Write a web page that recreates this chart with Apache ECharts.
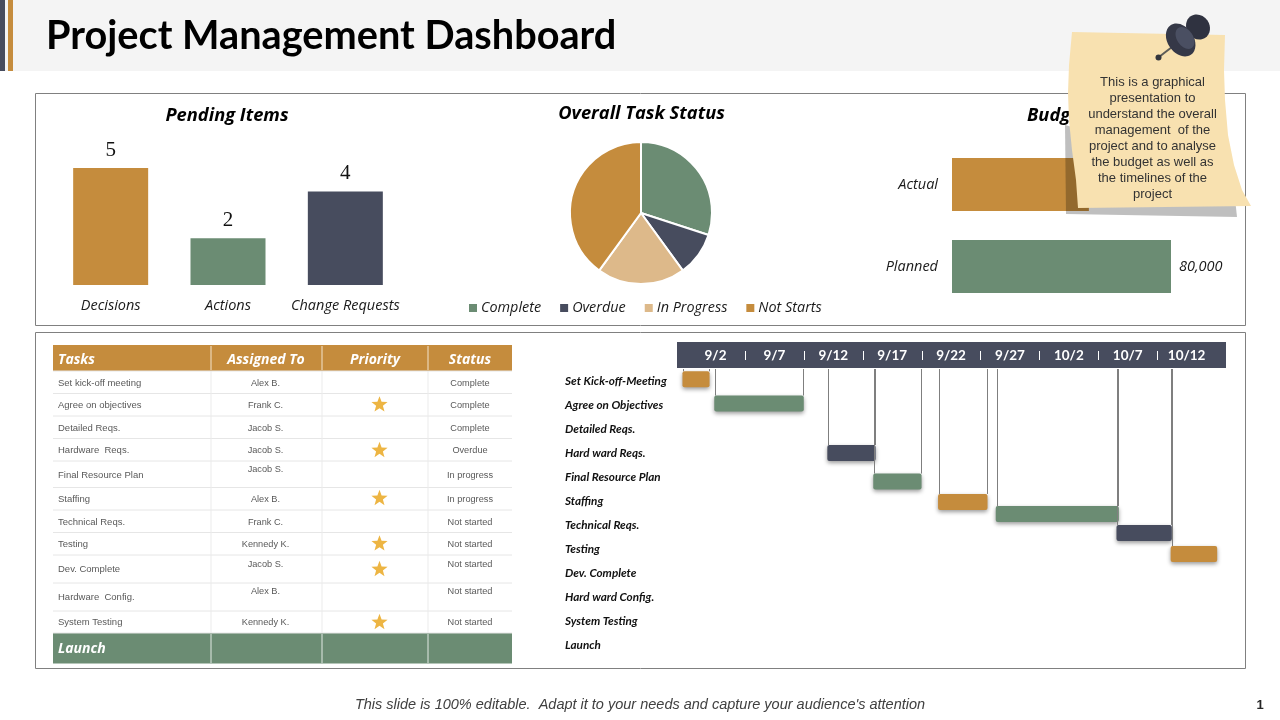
<!DOCTYPE html>
<html>
<head>
<meta charset="utf-8">
<title>Project Management Dashboard</title>
<script src="https://cdn.jsdelivr.net/npm/echarts@6/dist/echarts.min.js"></script>
<style>
html, body { margin: 0; padding: 0; background: #fff; }
#main { width: 1280px; height: 720px; }
</style>
</head>
<body>
<div id="main"></div>
<script>
// pending items
var pendingNames = ['Decisions', 'Actions', 'Change Requests'];
var pendingValues = [5, 2, 4];

// overall task status
var statusNames = ['Complete', 'Overdue', 'In Progress', 'Not Starts'];
var statusValues = [30, 10, 20, 40];

// budget
var budgetNames = ['Actual', 'Planned'];
var budgetValues = [50000, 80000];

// task table
var tableHeader = ['Tasks', 'Assigned To', 'Priority', 'Status'];
var tableTasks = ['Set kick-off meeting', 'Agree on objectives', 'Detailed Reqs.', 'Hardware  Reqs.', 'Final Resource Plan', 'Staffing', 'Technical Reqs.', 'Testing', 'Dev. Complete', 'Hardware  Config.', 'System Testing'];
var tableAssigned = ['Alex B.', 'Frank C.', 'Jacob S.', 'Jacob S.', 'Jacob S.', 'Alex B.', 'Frank C.', 'Kennedy K.', 'Jacob S.', 'Alex B.', 'Kennedy K.'];
var tablePriority = [0, 1, 0, 1, 0, 1, 0, 1, 1, 0, 1];
var tableStatus = ['Complete', 'Complete', 'Complete', 'Overdue', 'In progress', 'In progress', 'Not started', 'Not started', 'Not started', 'Not started', 'Not started'];
var tableFooter = 'Launch';

// gantt, days are counted from 1 Sep
var ganttTasks = ['Set Kick-off-Meeting', 'Agree on Objectives', 'Detailed Reqs.', 'Hard ward Reqs.', 'Final Resource Plan', 'Staffing', 'Technical Reqs.', 'Testing', 'Dev. Complete', 'Hard ward Config.', 'System Testing', 'Launch'];
var ganttTicks = [2, 7, 12, 17, 22, 27, 32, 37, 42];
var ganttStart = [1.7, 4.4, 14, 17.9, 23.4, 28.3, 38.55, 43.15];
var ganttEnd = [4, 12, 18.1, 22, 27.6, 38.75, 43.25, 47.1];
var ganttRow = [-0.07, 0.94, 3, 4.19, 5.04, 5.54, 6.33, 7.21];

var GOLD = '#C58C3D', GREEN = '#6B8C73', NAVY = '#474C5E', TAN = '#DDB98A';
var ganttColors = [GOLD, GREEN, NAVY, GREEN, GOLD, GREEN, NAVY, GOLD];

// table layout
var colEdges = [53, 211, 322, 428, 512];
var rowEdges = [371, 393.5, 416, 438.5, 461, 487.5, 510, 532.5, 555, 583, 611, 633];
var taskY = [383, 405, 428, 450, 475, 499, 522, 544, 569, 597, 622];
var assignedY = [383, 405, 428, 450, 469, 499, 522, 544, 564, 591, 622];
var statusY = [383, 405, 428, 450, 475, 499, 522, 544, 564, 591, 622];
var starY = [0, 404.7, 0, 450.3, 0, 498.3, 0, 543.7, 569.3, 0, 622.3];

function starPoints(cx, cy, r) {
    var pts = [];
    for (var i = 0; i < 10; i++) {
        var rad = i % 2 ? r * 0.42 : r;
        var a = -Math.PI / 2 + i * Math.PI / 5;
        pts.push([cx + rad * Math.cos(a), cy + rad * Math.sin(a)]);
    }
    return pts;
}

function label(x, y, text, size, color, align, weight, italic, family) {
    return {
        type: 'text', x: x, y: y, z: 5,
        style: {
            text: text, fill: color, fontSize: size, align: align, verticalAlign: 'middle',
            fontWeight: weight || 'normal', fontStyle: italic ? 'italic' : 'normal',
            fontFamily: family || 'Liberation Sans'
        }
    };
}

function box(x, y, w, h, fill, stroke) {
    return {
        type: 'rect', z: 1,
        shape: { x: x, y: y, width: w, height: h },
        style: { fill: fill, stroke: stroke || null, lineWidth: 1 }
    };
}

function line(x1, y1, x2, y2, color) {
    return {
        type: 'line', z: 2,
        shape: { x1: x1, y1: y1, x2: x2, y2: y2 },
        style: { stroke: color, lineWidth: 1 }
    };
}

var shapes = [
    box(0, 0, 1280, 71, '#F4F4F4'),
    box(0, 0, 5, 71, NAVY),
    box(8, 0, 5, 71, GOLD),
    label(46, 36, 'Project Management Dashboard', 39.7, '#000', 'left', 'bold', false, 'Lato'),
    box(35.5, 93.5, 1210, 232, 'transparent', '#808080'),
    box(35.5, 332.5, 1210, 336, 'transparent', '#808080'),
    label(640, 705, "This slide is 100% editable.  Adapt it to your needs and capture your audience's attention", 14.5, '#404040', 'center', 'normal', true),
    label(1260, 705, '1', 13, '#262626', 'center', 'bold'),
    box(677, 342, 549, 26, NAVY)
];

// table
shapes.push(box(53, 345, 459, 26, GOLD));
shapes.push(box(53, 633, 459, 30.5, GREEN));
rowEdges.forEach(function (y) {
    shapes.push(line(53, y, 512, y, '#E6E6E6'));
});
[1, 2, 3].forEach(function (i) {
    shapes.push(line(colEdges[i], 371, colEdges[i], 633, '#EBEBEB'));
    shapes.push(line(colEdges[i], 346, colEdges[i], 370, '#F3E4CE'));
    shapes.push(line(colEdges[i], 634, colEdges[i], 663, '#E3EAE5'));
});
var headFont = 'Open Sans';
shapes.push(label(58, 360, tableHeader[0], 14, '#fff', 'left', 'bold', true, headFont));
shapes.push(label(266, 360, tableHeader[1], 14, '#fff', 'center', 'bold', true, headFont));
shapes.push(label(375, 360, tableHeader[2], 14, '#fff', 'center', 'bold', true, headFont));
shapes.push(label(470, 360, tableHeader[3], 14, '#fff', 'center', 'bold', true, headFont));
shapes.push(label(58, 649, tableFooter, 14, '#fff', 'left', 'bold', true, headFont));
tableTasks.forEach(function (t, i) {
    shapes.push(label(58, taskY[i], t, 9.5, '#595959', 'left'));
    shapes.push(label(265.5, assignedY[i], tableAssigned[i], 9.2, '#595959', 'center'));
    shapes.push(label(470, statusY[i], tableStatus[i], 9.2, '#595959', 'center'));
    if (tablePriority[i]) {
        shapes.push({
            type: 'polygon', z: 3,
            shape: { points: starPoints(379.5, starY[i], 8.5) },
            style: { fill: '#EDB543' }
        });
    }
});

// sticky note and pin sit above the charts
var noteLines = ['This is a graphical', 'presentation to', 'understand the overall', 'management  of the', 'project and to analyse', 'the budget as well as', 'the timelines of the', 'project'];
shapes.push({
    type: 'polygon', z: 100,
    shape: { points: [[1065, 125], [1066, 214], [1237, 217], [1232, 170]] },
    style: { fill: 'rgba(0,0,0,0.25)' }
});
shapes.push({
    type: 'polygon', z: 101,
    shape: { points: [[1072, 32], [1225, 35], [1224, 70], [1225, 100], [1228, 135], [1234, 165], [1242, 190], [1251, 206], [1078, 208], [1076, 180], [1072, 150], [1069, 120], [1068, 93], [1069, 65]] },
    style: { fill: '#F8E1B0' }
});
shapes.push({
    type: 'line', z: 102,
    shape: { x1: 1158, y1: 57.7, x2: 1172, y2: 47 },
    style: { stroke: '#5C5C58', lineWidth: 2 }
});
shapes.push({ type: 'circle', z: 102, shape: { cx: 1158.5, cy: 57.5, r: 3 }, style: { fill: '#33353C' } });
shapes.push({ type: 'ellipse', z: 102, shape: { cx: 1198, cy: 27, rx: 11.5, ry: 13 }, rotation: 0.6, originX: 1198, originY: 27, style: { fill: '#2F3240' } });
shapes.push({ type: 'ellipse', z: 103, shape: { cx: 1180.7, cy: 40, rx: 13, ry: 18 }, rotation: 0.6, originX: 1180.7, originY: 40, style: { fill: '#353847' } });
shapes.push({ type: 'ellipse', z: 104, shape: { cx: 1185, cy: 38, rx: 8, ry: 12 }, rotation: 0.6, originX: 1185, originY: 38, style: { fill: '#4A4F62' } });
noteLines.forEach(function (t, i) {
    var n = label(1152.5, 82.5 + i * 16, t, 13, '#333', 'center');
    n.z = 105;
    shapes.push(n);
});

function crisp(v) {
    return Math.round(v) + 0.5;
}

function renderBar(params, api) {
    var start = api.coord([api.value(0), api.value(2)]);
    var end = api.coord([api.value(1), api.value(2)]);
    var head = api.coord([api.value(0), -0.5])[1];
    var h = 16;
    var top = start[1] - h / 2;
    var lineStyle = { stroke: '#7F7F7F', lineWidth: 1 };
    var x1 = crisp(start[0] + 1), x2 = crisp(end[0] - 1);
    var children = [
        { type: 'line', shape: { x1: x1, y1: head, x2: x1, y2: top }, style: lineStyle }
    ];
    // the last bar only hangs from its start
    if (params.dataIndex < ganttStart.length - 1) {
        children.push({ type: 'line', shape: { x1: x2, y1: head, x2: x2, y2: top }, style: lineStyle });
    }
    children.push({
        type: 'rect',
        shape: { x: start[0], y: top, width: end[0] - start[0], height: h, r: 2 },
        style: {
            fill: ganttColors[params.dataIndex],
            shadowColor: 'rgba(0,0,0,0.4)', shadowBlur: 4, shadowOffsetY: 2
        }
    });
    return { type: 'group', children: children };
}

// white separators inside the dark date band
function renderTick(params, api) {
    var p = api.coord([api.value(0), -0.5]);
    var x = crisp(p[0]);
    return {
        type: 'line',
        shape: { x1: x, y1: p[1] - 18, x2: x, y2: p[1] - 9 },
        style: { stroke: '#fff', lineWidth: 1 }
    };
}

var ganttData = ganttStart.map(function (s, i) {
    return [s, ganttEnd[i], ganttRow[i]];
});

var italicLabel = { fontFamily: 'Open Sans', fontStyle: 'italic', fontSize: 14.5, color: '#1a1a1a' };
var titleStyle = { fontFamily: 'Open Sans', fontStyle: 'italic', fontWeight: 'bold', fontSize: 18.3, color: '#000' };

var myChart = echarts.init(document.getElementById('main'));
var option = {
    animation: false,
    textStyle: { fontFamily: 'Open Sans' },
    title: [
        { text: 'Pending Items', left: 227, top: 107, textAlign: 'center', textStyle: titleStyle, padding: 0 },
        { text: 'Overall Task Status', left: 641.5, top: 105, textAlign: 'center', textStyle: titleStyle, padding: 0 },
        { text: 'Budget', left: 1027, top: 107, textStyle: titleStyle, padding: 0 }
    ],
    legend: {
        data: statusNames, left: 467, top: 301, padding: 0,
        icon: 'rect', itemWidth: 10, itemHeight: 10, itemGap: 17,
        textStyle: Object.assign({}, italicLabel, { fontSize: 14.4, padding: [0, 0, 0, -2] })
    },
    grid: [
        { left: 52, top: 168, width: 352, height: 117 },
        { left: 952, top: 143.5, width: 219, height: 164 },
        { left: 686, top: 369, width: 530, height: 288 }
    ],
    xAxis: [
        {
            type: 'category', gridIndex: 0, data: pendingNames,
            axisLine: { show: false }, axisTick: { show: false },
            axisLabel: Object.assign({ margin: 13, interval: 0 }, italicLabel)
        },
        { type: 'value', gridIndex: 1, min: 0, max: 80000, show: false },
        {
            type: 'value', gridIndex: 2, position: 'top', offset: 9, min: 2, max: 47, z: 10,
            axisLine: { show: false },
            splitLine: { show: false },
            axisTick: { show: false },
            axisLabel: {
                customValues: ganttTicks, align: 'center', padding: [0, 0, 0, 59], margin: -3,
                fontFamily: 'Lato', fontWeight: 'bold', fontSize: 13.5, color: '#fff',
                formatter: function (v) {
                    return v > 30 ? '10/' + (v - 30) : '9/' + v;
                }
            }
        }
    ],
    yAxis: [
        { type: 'value', gridIndex: 0, min: 0, max: 5, show: false },
        {
            type: 'category', gridIndex: 1, data: budgetNames, inverse: true,
            axisLine: { show: false }, axisTick: { show: false },
            axisLabel: Object.assign({ margin: 14, padding: [2, 0, 0, 0] }, italicLabel)
        },
        { type: 'value', gridIndex: 2, inverse: true, min: -0.5, max: 11.5, show: false },
        {
            type: 'category', gridIndex: 2, data: ganttTasks, inverse: true, position: 'left',
            axisLine: { show: false }, axisTick: { show: false },
            axisLabel: {
                interval: 0, align: 'left', margin: 121,
                fontFamily: 'Lato', fontWeight: 'bold', fontStyle: 'italic', fontSize: 11.7, color: '#111'
            }
        }
    ],
    series: [
        {
            type: 'bar', xAxisIndex: 0, yAxisIndex: 0, barWidth: 75,
            data: pendingValues.map(function (v, i) {
                return { value: v, itemStyle: { color: [GOLD, GREEN, NAVY][i] } };
            }),
            label: { show: true, position: 'top', distance: 7, fontFamily: 'Liberation Serif', fontSize: 21, color: '#111' }
        },
        {
            type: 'pie', center: [641, 213], radius: 71, startAngle: 90,
            color: [GREEN, NAVY, TAN, GOLD],
            label: { show: false }, labelLine: { show: false },
            itemStyle: { borderColor: '#fff', borderWidth: 2 },
            data: statusNames.map(function (n, i) {
                return { name: n, value: statusValues[i] };
            })
        },
        {
            type: 'bar', xAxisIndex: 1, yAxisIndex: 1, barWidth: 53,
            data: budgetValues.map(function (v, i) {
                return { value: v, itemStyle: { color: [GOLD, GREEN][i] } };
            }),
            label: Object.assign({
                show: true, position: 'right', distance: 8, padding: [2, 0, 0, 0],
                formatter: function (p) { return p.value.toLocaleString('en-US'); }
            }, italicLabel)
        },
        {
            type: 'custom', xAxisIndex: 2, yAxisIndex: 2,
            renderItem: renderBar, data: ganttData, clip: false
        },
        {
            type: 'custom', xAxisIndex: 2, yAxisIndex: 2, z: 9,
            renderItem: renderTick, data: ganttTicks.slice(1), clip: false,
            encode: { x: 0 }
        }
    ],
    graphic: { elements: shapes }
};
myChart.setOption(option);
</script>
</body>
</html>
